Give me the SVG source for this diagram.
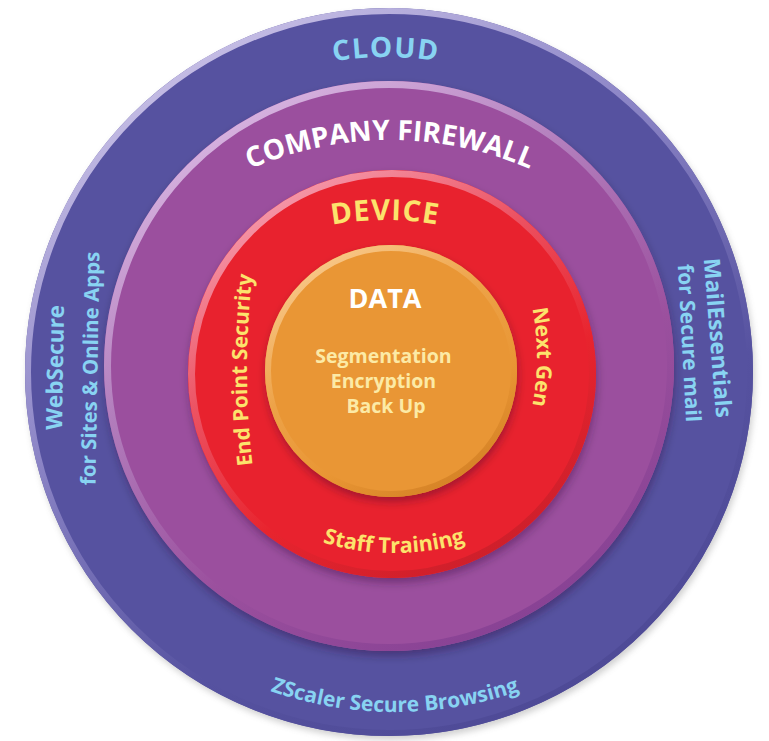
<svg xmlns="http://www.w3.org/2000/svg" width="769" height="741" viewBox="0 0 769 741">
<style>
  text { font-family: "Open Sans", "Noto Sans", "Liberation Sans", sans-serif; font-weight: 700; }
  .blue { fill: #88D3F2; }
  .white { fill: #FFFFFF; }
  .yellow { fill: #FCE36C; }
  .pale { fill: #FCEAA6; }
  .rim { fill: none; }
</style>
<defs>
  <linearGradient id="rimBlue" x1="0.2" y1="0" x2="0.8" y2="1">
    <stop offset="0" stop-color="#CFC7EA"/>
    <stop offset="0.35" stop-color="#8F88C8"/>
    <stop offset="0.7" stop-color="#5652A0"/>
    <stop offset="1" stop-color="#4C4894"/>
  </linearGradient>
  <linearGradient id="rimPurple" x1="0.2" y1="0" x2="0.8" y2="1">
    <stop offset="0" stop-color="#DDBCE6"/>
    <stop offset="0.35" stop-color="#B27DBC"/>
    <stop offset="0.65" stop-color="#9B509E"/>
    <stop offset="1" stop-color="#843F92"/>
  </linearGradient>
  <linearGradient id="rimRed" x1="0.2" y1="0" x2="0.8" y2="1">
    <stop offset="0" stop-color="#F6A2B4"/>
    <stop offset="0.35" stop-color="#EC5262"/>
    <stop offset="0.65" stop-color="#E8242E"/>
    <stop offset="1" stop-color="#C91E2A"/>
  </linearGradient>
  <linearGradient id="rimOrange" x1="0.2" y1="0" x2="0.8" y2="1">
    <stop offset="0" stop-color="#F9CB8E"/>
    <stop offset="0.4" stop-color="#EDA247"/>
    <stop offset="0.7" stop-color="#E99634"/>
    <stop offset="1" stop-color="#D27F24"/>
  </linearGradient>
  <filter id="shadow" x="-15%" y="-15%" width="130%" height="135%">
    <feGaussianBlur in="SourceAlpha" stdDeviation="4"/>
    <feOffset dx="1" dy="5" result="b"/>
    <feFlood flood-color="#2a0030" flood-opacity="0.35"/>
    <feComposite in2="b" operator="in"/>
    <feMerge><feMergeNode/><feMergeNode in="SourceGraphic"/></feMerge>
  </filter>
  <filter id="soft" x="-10%" y="-10%" width="120%" height="120%">
    <feGaussianBlur stdDeviation="3"/>
  </filter>
  <path id="cloudArc" d="M 71 372 A 315 315 0 0 1 701 372"/>
  <path id="firewallArc" d="M 39 491 A 351 351 0 0 1 741 491"/>
  <path id="deviceArc" d="M 85 520 A 300 300 0 0 1 685 520"/>
  <path id="staffArc" d="M 144 303 A 250 250 0 0 0 644 303"/>
  <path id="zscalerArc" d="M 15 332 A 380 380 0 0 0 775 332"/>
  <path id="endPointArc" d="M 253 470 A 836 836 0 0 1 253 270"/>
  <path id="nextGenArc" d="M 532 307 A 252 252 0 0 1 532 407"/>
</defs>

<g id="cloud">
  <circle cx="391" cy="376" r="364" fill="#9a9a9a" opacity="0.45" filter="url(#soft)"/>
  <circle cx="389" cy="372" r="364" fill="#5652A0"/>
  <circle class="rim" cx="389" cy="372" r="361" stroke="url(#rimBlue)" stroke-width="6"/>
  <text class="blue" font-size="28" letter-spacing="1.5"><textPath href="#cloudArc" startOffset="50%" text-anchor="middle">CLOUD</textPath></text>
  <text class="blue" font-size="22.5" text-anchor="middle" transform="translate(63,367.5) rotate(-89)">WebSecure</text>
  <text class="blue" font-size="20.5" text-anchor="middle" transform="translate(97.5,368.5) rotate(-89)">for Sites &amp; Online Apps</text>
  <text class="blue" font-size="22.5" text-anchor="middle" transform="translate(710,338.5) rotate(85.5)">MailEssentials</text>
  <text class="blue" font-size="21" text-anchor="middle" transform="translate(682,343.5) rotate(87)">for Secure mail</text>
  <text class="blue" font-size="21"><textPath href="#zscalerArc" startOffset="50%" text-anchor="middle">ZScaler Secure Browsing</textPath></text>
</g>

<g id="firewall">
  <circle cx="389" cy="366" r="285" fill="#9B509E" filter="url(#shadow)"/>
  <circle class="rim" cx="389" cy="366" r="281.5" stroke="url(#rimPurple)" stroke-width="7"/>
  <text class="white" font-size="28"><textPath href="#firewallArc" startOffset="50%" text-anchor="middle">COMPANY FIREWALL</textPath></text>
</g>

<g id="device">
  <circle cx="392" cy="374" r="204" fill="#E8242E" filter="url(#shadow)"/>
  <circle class="rim" cx="392" cy="374" r="200.5" stroke="url(#rimRed)" stroke-width="7"/>
  <text class="yellow" font-size="29" letter-spacing="1"><textPath href="#deviceArc" startOffset="50%" text-anchor="middle">DEVICE</textPath></text>
  <text class="yellow" font-size="21"><textPath href="#endPointArc" startOffset="50%" text-anchor="middle">End Point Security</textPath></text>
  <text class="yellow" font-size="21"><textPath href="#nextGenArc" startOffset="50%" text-anchor="middle">Next Gen</textPath></text>
  <text class="yellow" font-size="21.5"><textPath href="#staffArc" startOffset="50%" text-anchor="middle">Staff Training</textPath></text>
</g>

<g id="data">
  <circle cx="391" cy="371" r="126" fill="#E99634" filter="url(#shadow)"/>
  <circle class="rim" cx="391" cy="371" r="123" stroke="url(#rimOrange)" stroke-width="6"/>
  <text class="white" font-size="27" x="385" y="308" text-anchor="middle">DATA</text>
  <text class="pale" font-size="19.5" text-anchor="middle">
    <tspan x="386" y="363">Segmentation</tspan>
    <tspan x="386" y="388">Encryption</tspan>
    <tspan x="386" y="413">Back Up</tspan>
  </text>
</g>

<g id="connectors"/>
</svg>
